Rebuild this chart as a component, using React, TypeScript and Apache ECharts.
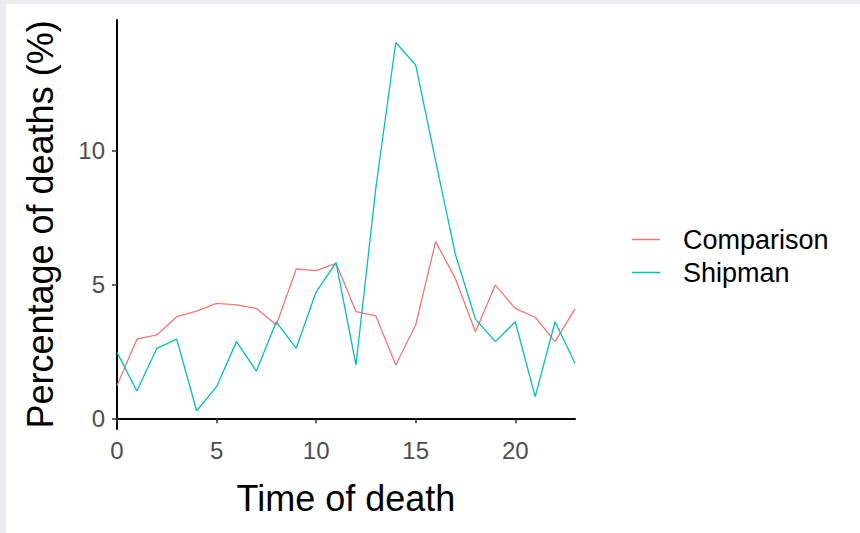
import React, { useEffect, useRef } from "react";
import * as echarts from "echarts";

const hours = [0, 1, 2, 3, 4, 5, 6, 7, 8, 9, 10, 11, 12, 13, 14, 15, 16, 17, 18, 19, 20, 21, 22, 23];
const comparison = [1.22, 2.95, 3.11, 3.79, 4.0, 4.29, 4.23, 4.1, 3.48, 5.57, 5.51, 5.78, 3.98, 3.82, 1.99, 3.48, 6.59, 5.2, 3.23, 4.97, 4.1, 3.77, 2.86, 4.08];
const shipman = [2.46, 1.02, 2.61, 2.95, 0.28, 1.18, 2.86, 1.76, 3.6, 2.61, 4.72, 5.81, 1.99, 8.6, 14.02, 13.18, 9.6, 6.1, 3.7, 2.86, 3.6, 0.81, 3.6, 2.05];
const xTicks = [0, 5, 10, 15, 20];
const yTicks = [0, 5, 10];
const seriesNames = ["Comparison", "Shipman"];
const seriesColors = ["#F8766D", "#00BFC4"];

export default function App() {
  const ref = useRef<HTMLDivElement>(null);
  useEffect(() => {
    if (!ref.current) return;
    const chart = echarts.init(ref.current, null, { renderer: "svg" });
    const font = "Liberation Sans, Arial, sans-serif";
    const mk = (vals: number[]) => hours.map((h, i) => [h, vals[i]]);
    chart.setOption({
      animation: false,
      backgroundColor: "#ffffff",
      grid: { left: 111, right: 285, top: 16, bottom: 104, containLabel: false },
      legend: {
        orient: "vertical",
        left: 621,
        top: 217,
        itemWidth: 28,
        itemHeight: 1.5,
        itemGap: 6,
        icon: "rect",
        data: seriesNames,
        textStyle: { fontFamily: font, fontSize: 27, color: "#000", padding: [0, 0, 0, 18] },
      },
      xAxis: {
        type: "value",
        min: 0,
        max: 23,
        name: "Time of death",
        nameLocation: "middle",
        nameGap: 51,
        nameTextStyle: { fontFamily: font, fontSize: 36, color: "#000" },
        axisLine: { show: true, lineStyle: { color: "#000", width: 2 } },
        axisTick: { show: true, length: 5, lineStyle: { color: "#333", width: 1.5 }, customValues: xTicks },
        axisLabel: { fontFamily: font, fontSize: 24, color: "#4d4d4d", margin: 9, customValues: xTicks },
        splitLine: { show: false },
      },
      yAxis: {
        type: "value",
        min: -0.4,
        max: 14.86,
        name: "Percentage of deaths (%)",
        nameLocation: "middle",
        nameGap: 59,
        nameTextStyle: { fontFamily: font, fontSize: 36, color: "#000" },
        axisLine: { show: true, lineStyle: { color: "#000", width: 2 } },
        axisTick: { show: true, length: 5, lineStyle: { color: "#333", width: 1.5 }, customValues: yTicks },
        axisLabel: { fontFamily: font, fontSize: 24, color: "#4d4d4d", margin: 12, customValues: yTicks },
        splitLine: { show: false },
      },
      series: [
        {
          name: seriesNames[0],
          type: "line",
          data: mk(comparison),
          showSymbol: false,
          symbol: "none",
          color: seriesColors[0],
          lineStyle: { color: seriesColors[0], width: 1.3 },
        },
        {
          name: seriesNames[1],
          type: "line",
          data: mk(shipman),
          showSymbol: false,
          symbol: "none",
          color: seriesColors[1],
          lineStyle: { color: seriesColors[1], width: 1.3 },
        },
      ],
    });
    return () => chart.dispose();
  }, []);
  return (
    <div style={{ position: "fixed", left: 0, top: 0, width: 860, height: 533, background: "#e9ebee" }}>
      <div ref={ref} style={{ position: "absolute", left: 6, top: 4, width: 854, height: 529, background: "#fff" }} />
    </div>
  );
}
